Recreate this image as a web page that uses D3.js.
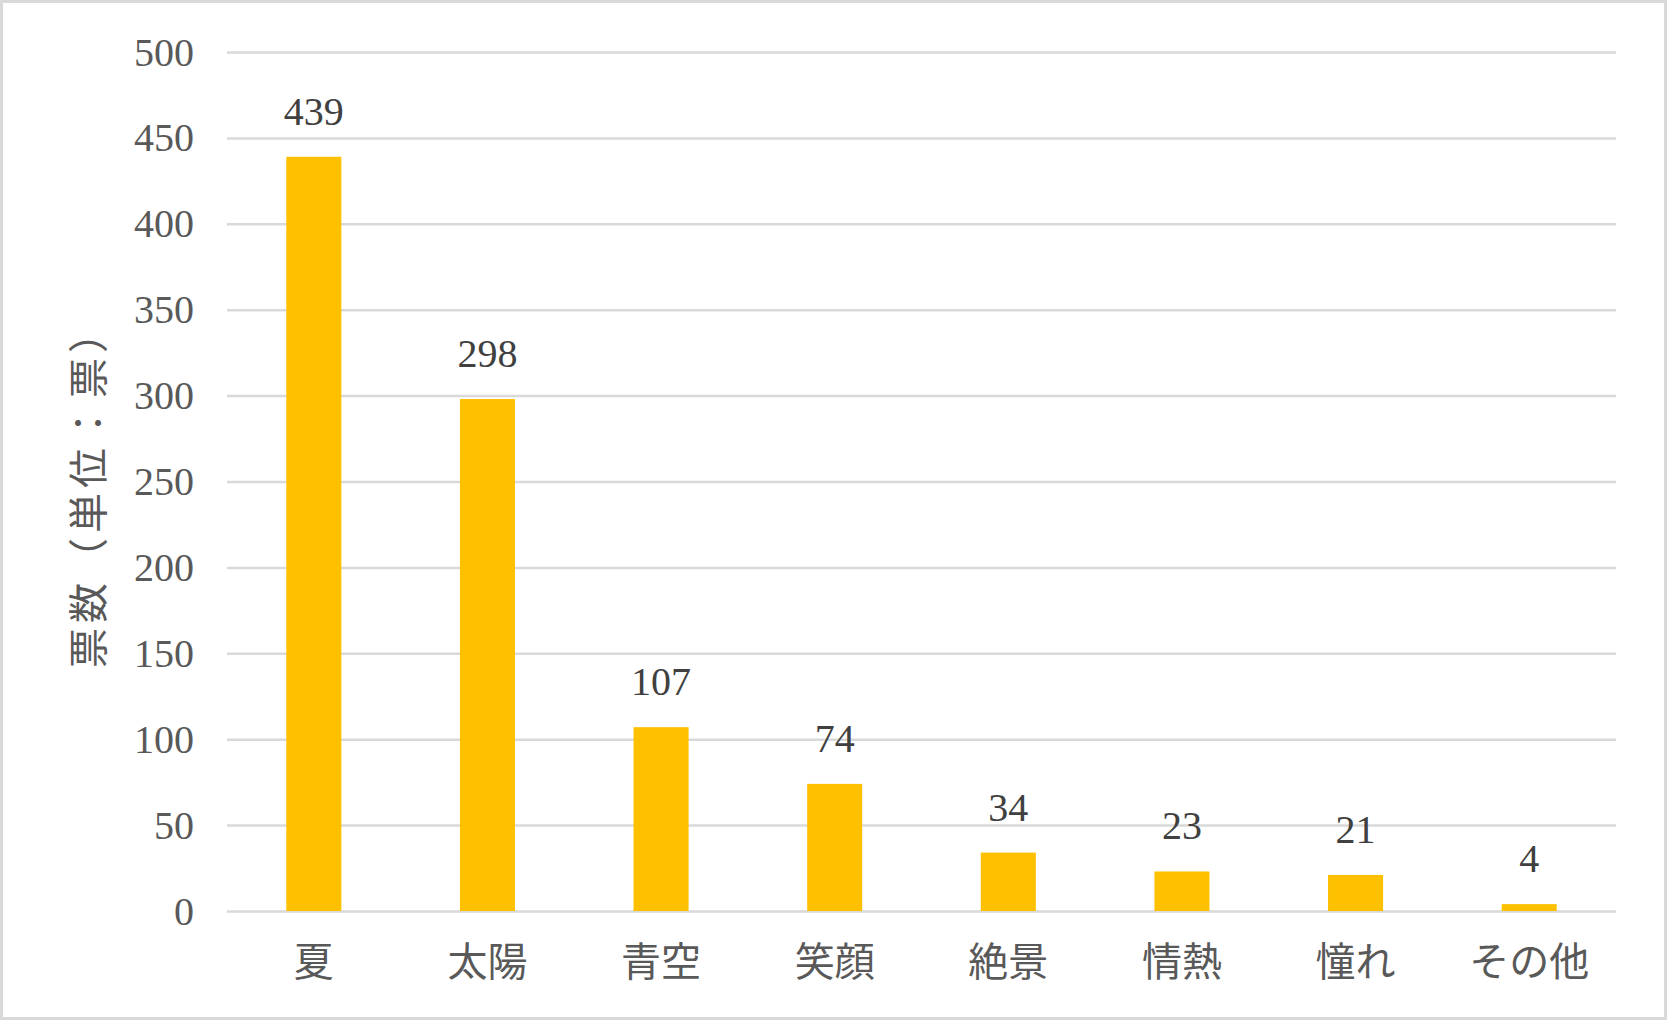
<!DOCTYPE html>
<html>
<head>
<meta charset="utf-8">
<script src="https://cdn.jsdelivr.net/npm/d3@7"></script>
<style>
  body { margin: 0; background: #fff; }
</style>
</head>
<body>
<svg width="1667" height="1020"></svg>
<script>
// données
const categories = ['夏', '太陽', '青空', '笑顔', '絶景', '情熱', '憧れ', 'その他'];
const votes = [439, 298, 107, 74, 34, 23, 21, 4];
const yTicks = [0, 50, 100, 150, 200, 250, 300, 350, 400, 450, 500];
const yTitle = '票数（単位：票）';

const width = 1667, height = 1020;
const margin = {top: 52, right: 51, bottom: 109, left: 227};

const font = '"Liberation Serif", "Noto Sans CJK JP", serif';

const svg = d3.select('svg');

// fond + cadre
svg.append('rect')
  .attr('x', 1.5).attr('y', 1.5)
  .attr('width', width - 3).attr('height', height - 3)
  .attr('fill', '#fff')
  .attr('stroke', '#d9d9d9')
  .attr('stroke-width', 3);

const x = d3.scaleBand()
  .domain(categories)
  .range([margin.left, width - margin.right])
  .paddingInner(0.683)
  .paddingOuter(0.3415);

const y = d3.scaleLinear()
  .domain([0, 500])
  .range([height - margin.bottom, margin.top]);

// grille
const yAxis = d3.axisLeft(y)
  .tickValues(yTicks)
  .tickSize(-(width - margin.left - margin.right))
  .tickPadding(33);

const gy = svg.append('g')
  .attr('transform', `translate(${margin.left},0)`)
  .call(yAxis);
gy.select('.domain').remove();
gy.selectAll('.tick line')
  .attr('stroke', '#d9d9d9')
  .attr('stroke-width', 2.5);
gy.selectAll('.tick text')
  .attr('dy', null)
  .attr('y', 13)
  .attr('fill', '#595959')
  .style('font-family', font)
  .style('font-size', '40px');

// barres
svg.append('g')
  .selectAll('rect')
  .data(votes)
  .join('rect')
  .attr('x', (d, i) => x(categories[i]))
  .attr('y', d => y(d))
  .attr('width', x.bandwidth())
  .attr('height', d => y(0) - y(d))
  .attr('fill', '#ffc000');

// étiquettes des valeurs
svg.append('g')
  .selectAll('text')
  .data(votes)
  .join('text')
  .attr('x', (d, i) => x(categories[i]) + x.bandwidth() / 2)
  .attr('y', d => y(d) - 32)
  .attr('text-anchor', 'middle')
  .attr('fill', '#404040')
  .style('font-family', font)
  .style('font-size', '40px')
  .text(d => d);

// axe des catégories
const xAxis = d3.axisBottom(x).tickSize(0).tickPadding(0);
const gx = svg.append('g')
  .attr('transform', `translate(0,${height - margin.bottom})`)
  .call(xAxis);
gx.select('.domain').remove();
gx.selectAll('.tick text')
  .attr('dy', null)
  .attr('y', 65)
  .attr('fill', '#595959')
  .style('font-family', font)
  .style('font-size', '40px');

// titre de l'axe y
svg.append('text')
  .attr('transform', 'translate(89,488) rotate(-90)')
  .attr('text-anchor', 'middle')
  .attr('dominant-baseline', 'central')
  .attr('fill', '#595959')
  .style('font-family', font)
  .style('font-size', '40px')
  .style('letter-spacing', '5px')
  .text(yTitle);
</script>
</body>
</html>
